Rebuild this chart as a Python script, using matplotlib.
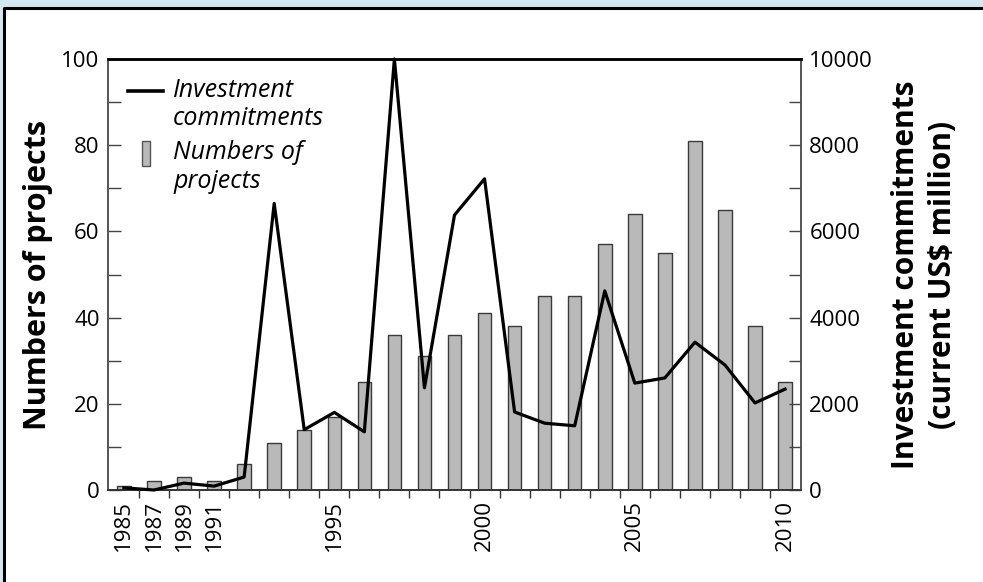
import numpy as np
import matplotlib
matplotlib.use('Agg')
import matplotlib.pyplot as plt
from matplotlib.patches import Rectangle
from matplotlib.lines import Line2D
from matplotlib.legend_handler import HandlerLine2D

plt.rcParams['font.family'] = ['Open Sans', 'DejaVu Sans']

# data
years = ['1985', '1987', '1989', '1991', '1992', '1993', '1994', '1995', '1996',
         '1997', '1998', '1999', '2000', '2001', '2002', '2003', '2004', '2005',
         '2006', '2007', '2008', '2009', '2010']
projects = [1, 2, 3, 2, 6, 11, 14, 17, 25, 36, 31, 36, 41, 38, 45, 45, 57, 64,
            55, 81, 65, 38, 25]
investment = [50, 0, 160, 90, 300, 6650, 1400, 1800, 1350, 10000, 2370, 6380,
              7220, 1810, 1550, 1490, 4620, 2480, 2600, 3430, 2900, 2020, 2340]
shown_years = ['1985', '1987', '1989', '1991', '1995', '2000', '2005', '2010']

BG = '#d3e9ef'
BAR = '#b9b9b9'
EDGE = '#3a3a3a'


# legend handles sit on the first line of a two-line label
class FirstLineHandler(HandlerLine2D):
    def create_artists(self, legend, orig_handle, xdescent, ydescent, width,
                       height, fontsize, trans):
        return super().create_artists(legend, orig_handle, xdescent,
                                      ydescent - 1.15 * fontsize, width,
                                      height, fontsize, trans)


fig = plt.figure(figsize=(9.83, 5.82), dpi=100)
fig.patch.set_facecolor(BG)
# white panel, black border on top and left only (it runs off the picture)
top = 1 - 8 / 582
left = 4 / 983
fig.patches.append(Rectangle((left, 0), 1 - left, top, transform=fig.transFigure,
                             facecolor='white', edgecolor='none', zorder=-10))
fig.lines.append(Line2D([left, left, 1], [0, top, top], transform=fig.transFigure,
                        color='black', linewidth=2.2, zorder=-9))

ax = fig.add_axes([108 / 983, 92 / 582, 693 / 983, 431 / 582])
ax.set_facecolor('white')
x = np.arange(len(years))

ax.bar(x, projects, width=0.45, color=BAR, edgecolor=EDGE, linewidth=1.0,
       zorder=2)
ax.set_xlim(-0.53, len(years) - 0.47)
ax.set_ylim(0, 100)

ax2 = ax.twinx()
ax2.plot(x, investment, color='black', linewidth=2.3, zorder=3, clip_on=False)
ax2.set_ylim(0, 10000)

# x ticks: labels on categories, marks between categories
ax.set_xticks([i for i, y in enumerate(years) if y in shown_years])
ax.set_xticklabels([y for y in years if y in shown_years], rotation=90,
                   fontsize=16)
ax.tick_params(axis='x', which='major', length=0, pad=7.5)
ax.set_xticks(np.arange(0.5, len(years) - 1, 1), minor=True)
ax.tick_params(axis='x', which='minor', length=6, width=1.0, direction='out',
               color='#333333')

ax.set_yticks(np.arange(0, 101, 20))
ax.set_yticks(np.arange(10, 100, 20), minor=True)
ax.tick_params(axis='y', which='both', direction='in', length=9, width=1.0,
               labelsize=16, pad=6, color='#444444')
ax2.set_yticks(np.arange(0, 10001, 2000))
ax2.set_yticks(np.arange(1000, 10000, 2000), minor=True)
ax2.tick_params(axis='y', which='both', direction='in', length=9, width=1.0,
                labelsize=16, pad=6, color='#444444')

for a in (ax, ax2):
    a.spines['top'].set_linewidth(1.8)
    a.spines['top'].set_color('black')
    a.spines['bottom'].set_linewidth(1.2)
    a.spines['bottom'].set_color('#333333')
    a.spines['left'].set_color('#555555')
    a.spines['right'].set_color('#555555')
    a.spines['left'].set_linewidth(1.2)
    a.spines['right'].set_linewidth(1.2)

ax.set_ylabel('Numbers of projects', fontsize=22, fontweight='bold',
              labelpad=6)
ax2.set_ylabel('Investment commitments\n(current US$ million)', fontsize=21.5,
               fontweight='bold', labelpad=13, linespacing=1.3)

handles = [Line2D([], [], color='black', linewidth=2.6),
           Line2D([], [], linestyle='', marker=[(-0.3, -1), (0.3, -1), (0.3, 1), (-0.3, 1), (-0.3, -1)],
                  markersize=18, markerfacecolor=BAR, markeredgecolor='#555555',
                  markeredgewidth=1.0)]
leg = ax2.legend(handles, ['Investment\ncommitments', 'Numbers of\nprojects'],
                 loc='upper left', bbox_to_anchor=(0.029, 0.957),
                 frameon=False, handlelength=1.4, handletextpad=0.4,
                 labelspacing=0.35, borderaxespad=0, borderpad=0,
                 prop={'style': 'italic', 'size': 18},
                 handler_map={Line2D: FirstLineHandler()})
for t in leg.get_texts():
    t.set_linespacing(1.2)

fig.savefig('out.png', dpi=100, facecolor=BG)
